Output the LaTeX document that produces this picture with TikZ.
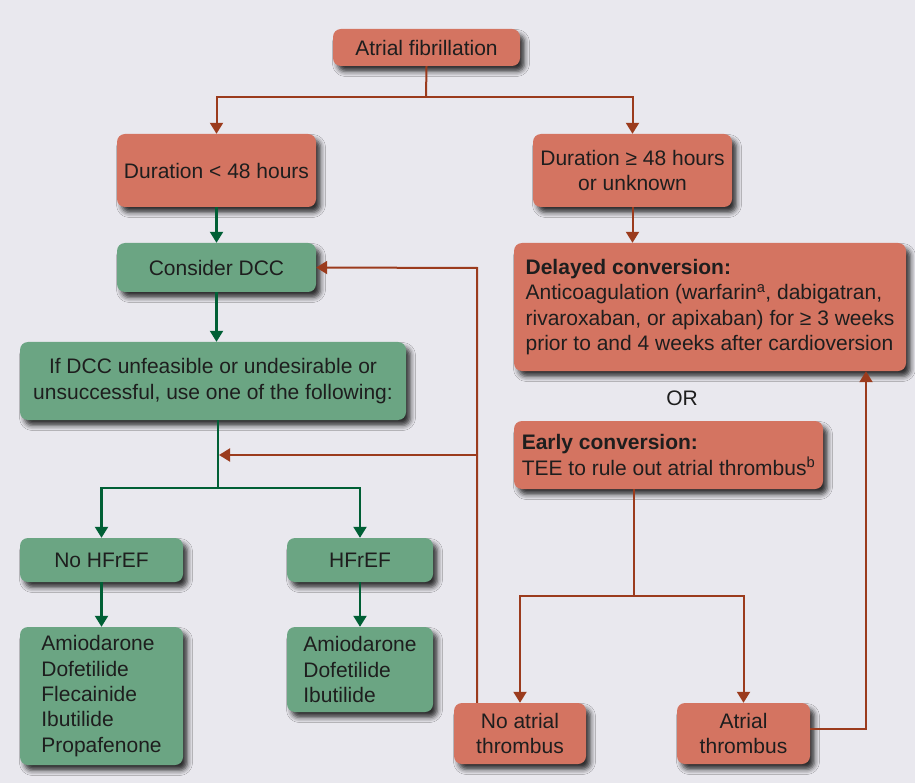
\documentclass[tikz,border=0pt]{standalone}
\usepackage{fontspec}
\setmainfont{Liberation Sans}
\usetikzlibrary{arrows.meta,shadows.blur}

\definecolor{bg}{HTML}{E9E8EE}
\definecolor{redbox}{HTML}{D47461}
\definecolor{greenbox}{HTML}{6BA583}
\definecolor{redline}{HTML}{9B3B1D}
\definecolor{greenline}{HTML}{005F35}
\definecolor{ink}{HTML}{1E1E1E}

\tikzset{
  box/.style={rounded corners=8pt, inner sep=0pt, align=center, text=ink,
    font=\fontsize{21}{25.3}\selectfont,
    blur shadow={shadow xshift=4.5pt, shadow yshift=-5.5pt,
                 shadow blur radius=5pt, shadow opacity=80}},
  rbox/.style={box, fill=redbox},
  gbox/.style={box, fill=greenbox},
  rline/.style={draw=redline, line width=2pt},
  gline/.style={draw=greenline, line width=2.2pt},
  rarrow/.style={rline, -{Triangle[width=13pt,length=11pt]}},
  garrow/.style={gline, -{Triangle[width=13pt,length=11pt]}},
  plain/.style={text=ink, font=\fontsize{21}{25.3}\selectfont, inner sep=0pt}
}

\begin{document}
\begin{tikzpicture}[x=1pt, y=-1pt]
  % canvas
  \fill[bg] (0,0) rectangle (915,783);
  \useasboundingbox (0,0) rectangle (915,783);

  % top
  \node[rbox, minimum width=187pt, minimum height=37pt] (af) at (426.5,47.5) {Atrial fibrillation};
  \node[rbox, minimum width=199pt, minimum height=73pt] (lt48) at (216.5,170.5) {Duration < 48 hours};
  \node[rbox, minimum width=199pt, minimum height=73pt] (ge48) at (632.5,170.5) {Duration ≥ 48 hours\\or unknown};

  % left (green) branch
  \node[gbox, minimum width=199pt, minimum height=49pt] (dcc) at (216.5,267.5) {Consider DCC};
  \node[gbox, minimum width=386pt, minimum height=78pt] (unf) at (213,381) {If DCC unfeasible or undesirable or\\unsuccessful, use one of the following:};
  \node[gbox, minimum width=163pt, minimum height=44pt] (nohf) at (101.5,560) {No HFrEF};
  \node[gbox, minimum width=146pt, minimum height=44pt] (hf) at (360,560) {HFrEF};
  \node[gbox, align=left, minimum width=163pt, minimum height=138pt] (drugsA) at (101.5,696)
    {Amiodarone\\Dofetilide\\Flecainide\\Ibutilide\\Propafenone};
  \node[gbox, align=left, minimum width=146pt, minimum height=85pt] (drugsB) at (360,669.5)
    {Amiodarone\\Dofetilide\\Ibutilide};

  % right (red) branch
  \node[rbox, align=left, minimum width=392pt, minimum height=128pt] (delayed) at (710,307)
    {\textbf{Delayed conversion:}\\Anticoagulation (warfarin\textsuperscript{a}, dabigatran,\\rivaroxaban, or apixaban) for ≥ 3 weeks\\prior to and 4 weeks after cardioversion};
  \node[plain] (or) at (682,398) {OR};
  \node[rbox, align=left, minimum width=309pt, minimum height=68pt] (early) at (668.5,455)
    {\textbf{Early conversion:}\\TEE to rule out atrial thrombus\textsuperscript{b}};
  \node[rbox, minimum width=132pt, minimum height=61pt] (noat) at (520,733.5) {No atrial\\thrombus};
  \node[rbox, minimum width=133pt, minimum height=61pt] (at) at (743.5,733.5) {Atrial\\thrombus};

  % junction points
  \coordinate (splitA) at (426,97);
  \coordinate (gsplit) at (218,488);
  \coordinate (tsplit) at (634,596);
  \coordinate (ret) at (477,268);
  \coordinate (retb) at (477,455);
  \coordinate (retc) at (219,455);
  \coordinate (up) at (866,729);

  % red connectors
  \draw[rline] (af.south) -- (splitA);
  \draw[rarrow] (splitA) -| (lt48.north);
  \draw[rarrow] (splitA) -| (ge48.north);
  \draw[rarrow] (ge48.south) -- (ge48.south |- delayed.north);
  \draw[rline] (early.south -| tsplit) -- (tsplit);
  \draw[rarrow] (tsplit) -| (noat.north);
  \draw[rarrow] (tsplit) -| (at.north);
  \draw[rarrow] (noat.north -| ret) -- (ret) -- (dcc.east);
  \draw[rarrow] (retb) -- (retc);
  \draw[rarrow] (at.east |- up) -- (up) -- (up |- delayed.south);

  % green connectors
  \draw[garrow] (lt48.south) -- (dcc.north);
  \draw[garrow] (dcc.south) -- (dcc.south |- unf.north);
  \draw[gline] (unf.south -| gsplit) -- (gsplit);
  \draw[garrow] (gsplit) -| (nohf.north);
  \draw[garrow] (gsplit) -| (hf.north);
  \draw[garrow] (nohf.south) -- (drugsA.north);
  \draw[garrow] (hf.south) -- (drugsB.north);
\end{tikzpicture}
\end{document}
